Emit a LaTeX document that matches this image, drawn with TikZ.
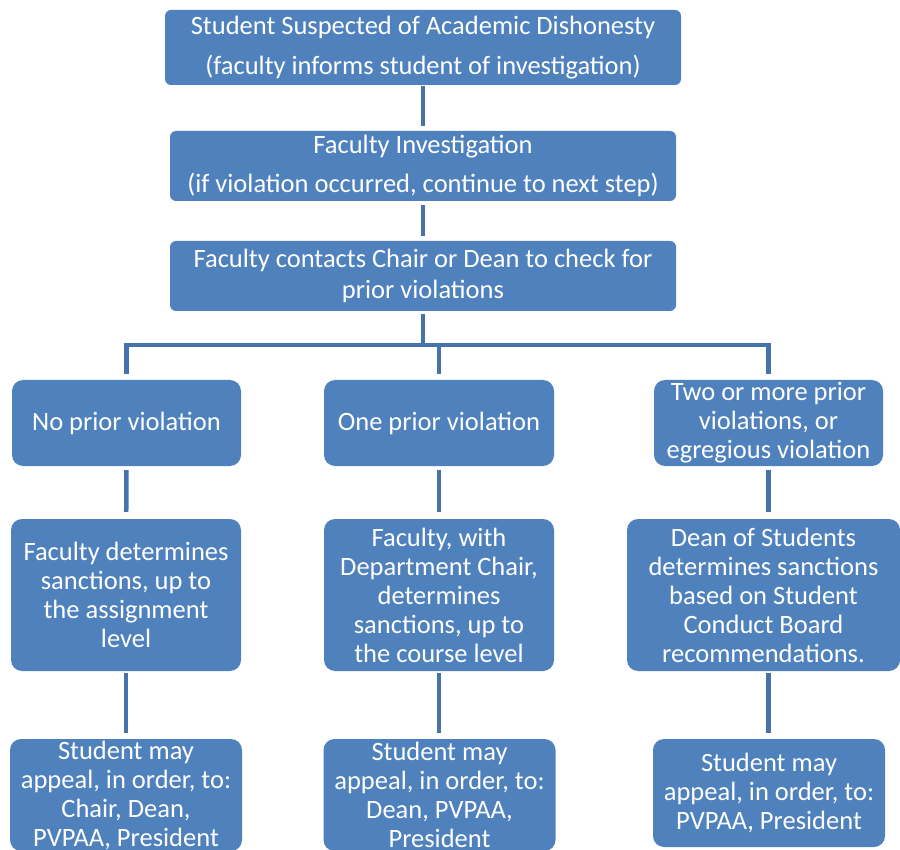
\documentclass[tikz,border=0pt]{standalone}
\usepackage{fontspec}
\setmainfont{Carlito}
\definecolor{boxblue}{HTML}{4F81BD}
\definecolor{lineblue}{HTML}{4673AC}
\begin{document}
\begin{tikzpicture}[x=1pt,y=-1pt,
  box/.style={fill=boxblue, text=white, rounded corners=6pt, align=center, inner sep=0pt,
    font=\fontsize{26.5}{29}\selectfont},
  topbox/.style={box, font=\fontsize{26.5}{39.5}\selectfont},
  lowbox/.style={box, rounded corners=11pt, minimum width=230pt},
  conn/.style={draw=lineblue, line width=4.5pt}]
\useasboundingbox (0,0) rectangle (900,850);
\clip (0,0) rectangle (900,850);
\node[topbox, minimum width=516pt, minimum height=75pt] (b1) at (423,47.5)
  {Student Suspected of Academic Dishonesty\\(faculty informs student of investigation)};
\node[topbox, minimum width=506pt, minimum height=70pt] (b2) at (423,166)
  {Faculty Investigation\\(if violation occurred, continue to next step)};
\node[box, font=\fontsize{26.5}{31}\selectfont, minimum width=506pt, minimum height=70pt] (b3) at (423,276)
  {Faculty contacts Chair or Dean to check for\\prior violations};

\node[lowbox, minimum width=229pt, minimum height=86pt] (r1a) at (126.5,423) {No prior violation};
\node[lowbox, minimum height=86pt] (r1b) at (439,423) {One prior violation};
\node[lowbox, minimum width=229pt, minimum height=86pt] (r1c) at (768.5,423) {Two or more prior\\violations, or\\egregious violation};

\node[lowbox, minimum height=152pt] (r2a) at (126,595) {Faculty determines\\sanctions, up to\\the assignment\\level};
\node[lowbox, minimum height=152pt] (r2b) at (439,595) {Faculty, with\\Department Chair,\\determines\\sanctions, up to\\the course level};
\node[lowbox, minimum width=273pt, minimum height=152pt] (r2c) at (763.5,595) {Dean of Students\\determines sanctions\\based on Student\\Conduct Board\\recommendations.};

\node[lowbox, minimum width=232pt, minimum height=112pt] (r3a) at (126,795) {Student may\\appeal, in order, to:\\Chair, Dean,\\PVPAA, President};
\node[lowbox, minimum width=232pt, minimum height=112pt] (r3b) at (439.5,795) {Student may\\appeal, in order, to:\\Dean, PVPAA,\\President};
\node[lowbox, minimum width=232pt, minimum height=108pt] (r3c) at (769,793) {Student may\\appeal, in order, to:\\PVPAA, President};

\draw[conn, shorten <=1pt, shorten >=5pt] (b1) -- (b2);
\draw[conn, shorten <=4pt, shorten >=5pt] (b2) -- (b3);
\coordinate (bus) at (423,345);
\draw[conn, shorten <=3pt] (b3.south) -- (bus);
\draw[conn, shorten >=6pt] (bus) -| (r1a.north);
\draw[conn, shorten >=6pt] (bus) -| (r1b.north);
\draw[conn, shorten >=6pt] (bus) -| (r1c.north);
\draw[conn, shorten <=4pt, shorten >=7pt] (r1a) -- (r2a);
\draw[conn, shorten <=4pt, shorten >=7pt] (r1b) -- (r2b);
\draw[conn, shorten <=4pt, shorten >=7pt] (r1c.south) -- (r1c.south |- r2c.north);
\draw[conn, shorten <=2pt, shorten >=6pt] (r2a.south) -- (r2a.south |- r3a.north);
\draw[conn, shorten <=2pt, shorten >=6pt] (r2b.south) -- (r2b.south |- r3b.north);
\draw[conn, shorten <=2pt, shorten >=6pt] (r1c.south |- r2c.south) -- (r1c.south |- r3c.north);
\end{tikzpicture}
\end{document}
